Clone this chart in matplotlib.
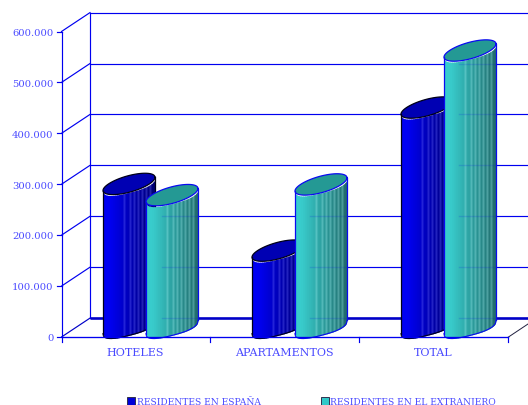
import numpy as np
import matplotlib
matplotlib.use("Agg")
import matplotlib.pyplot as plt

categories = ["HOTELES", "APARTAMENTOS", "TOTAL"]
residentes_espana = [281000, 150000, 431000]
residentes_extranjero = [259000, 280000, 543000]
y_ticks = [0, 100000, 200000, 300000, 400000, 500000, 600000]
y_labels = ["0", "100.000", "200.000", "300.000", "400.000", "500.000", "600.000"]
legend_labels = ["RESIDENTES EN ESPAÑA", "RESIDENTES EN EL EXTRANJERO"]

W, H = 528, 406
X0, Y0 = 61.5, 338.0      # front corner of the plot, in pixels
CAT_W = 149.0
PX_Y = 600000 / 305.5     # value per pixel
LINE = "#0000f0"
TEXT = "#4a4aff"
FONT = "DejaVu Serif"


def dx(p):
    return p / CAT_W


def dy(p):
    return p * PX_Y


def cylinder(left, value, light, dark, cap, edge, stripe):
    a = dx(26)
    mid = left + a
    tilt = dy(6.6)
    b = dy(8.4)
    base = dy(10)
    u = np.linspace(-1, 1, 27)

    def bulge(v):
        return b * np.clip(1 - np.abs(v) ** 2.6, 0, 1) ** (1 / 2.6)

    # body, cut in narrow strips so it shades from left to right
    for i in range(len(u) - 1):
        seg = np.linspace(u[i], u[i + 1] + 0.02 if i < len(u) - 2 else u[i + 1], 4)
        low = base + tilt * seg - bulge(seg)
        high = base + value + tilt * seg - bulge(seg)
        t = max(0, (i / (len(u) - 2) - 0.1) / 0.9)
        col = np.array(light) * (1 - t) + np.array(dark) * t
        if i in (10, 13, 15, 17, 19, 21, 23):
            col = col + (np.array(stripe) - col) * 0.3
        ax.fill_between(mid + a * seg, low, high, color=col, lw=0, zorder=3)
    # silhouette and top ellipse
    t = np.linspace(0, 2 * np.pi, 120)
    ex = mid + a * np.cos(t)
    ey = base + value + tilt * np.cos(t) + b * np.sin(t)
    ax.fill(ex, ey, color=cap, lw=0, zorder=3)
    ax.plot(ex, ey, color=edge, lw=0.9, zorder=3)
    line_u = np.linspace(-1, 1, 121)
    ax.plot(mid + a * line_u, base + tilt * line_u - bulge(line_u), color=edge, lw=0.8, zorder=3)
    ax.plot([left, left], [base - tilt, base - tilt + value], color=edge, lw=0.9, zorder=3)
    ax.plot([left + 2 * a] * 2, [base + tilt, base + tilt + value], color=edge, lw=0.9, zorder=3)


fig = plt.figure(figsize=(W / 100, H / 100), dpi=100)
ax = fig.add_axes([0, 0, 1, 1])
ax.set_xlim(dx(-X0), dx(W - X0))
ax.set_ylim(dy(Y0 - H), dy(Y0))
ax.axis("off")

depth_x, depth_y = dx(28.5), dy(18.9)
x_end = dx(W - X0)

# walls and grid
for v in y_ticks:
    lw = 1.9 if v == 0 else 0.85
    col = "#0000c8" if v == 0 else LINE
    ax.plot([depth_x, x_end], [v + depth_y] * 2, color=col, lw=lw, zorder=1, solid_capstyle="butt")
    ax.plot([0, depth_x], [v, v + depth_y], color="#0000c8" if v == 0 else LINE, lw=0.85, zorder=1)
    ax.plot([dx(-5), 0], [v, v], color=LINE, lw=0.85, zorder=1)
ax.plot([0, 0], [0, 600000], color=LINE, lw=0.85, zorder=1)
ax.plot([depth_x, depth_x], [depth_y, 600000 + depth_y], color=LINE, lw=0.85, zorder=1)
ax.plot([3, x_end], [0, dy(13)], color="#202040", lw=0.7, zorder=1)

# cylinders
for i in range(len(categories)):
    cylinder(i + dx(41.5), residentes_espana[i], (0, 0, 0.95), (0, 0, 0.45), (0, 0, 0.7), "#000018", (0.45, 0.45, 1))
    cylinder(i + dx(84.5), residentes_extranjero[i], (0.22, 0.8, 0.8), (0.13, 0.42, 0.42), (0.14, 0.6, 0.58), "#0a0af0", (0.65, 0.95, 0.95))
    # the back grid shows faintly through the right part of the teal cylinder
    for v in y_ticks:
        if v + depth_y < residentes_extranjero[i]:
            ax.plot([i + dx(100), i + dx(136)], [v + depth_y] * 2, color=LINE, lw=1.0, alpha=0.14, zorder=3.5)

# front axis on top
ax.plot([0, 3], [0, 0], color=LINE, lw=0.95, zorder=4)
for i in range(len(categories) + 1):
    ax.plot([i, i], [0, dy(-5)], color=LINE, lw=0.85, zorder=4)
for v, lab in zip(y_ticks, y_labels):
    ax.text(dx(-8), v - dy(0.8), lab, ha="right", va="center", color=TEXT, fontsize=7.2, family=FONT)
for i, cat in enumerate(categories):
    ax.text(i + 0.5 + dx(-0.5), dy(-15.5), cat, ha="center", va="center", color=TEXT, fontsize=8.0, family=FONT)

# legend
ax.bar(dx(131 - X0), dy(8), dx(8), bottom=dy(Y0 - 405.5), color="#0000d8", edgecolor="#303050", lw=0.7, zorder=4)
ax.text(dx(137 - X0), dy(Y0 - 402.5), legend_labels[0], va="center", color=TEXT, fontsize=6.55, family=FONT)
ax.bar(dx(325 - X0), dy(8), dx(8), bottom=dy(Y0 - 405.5), color="#30c8c8", edgecolor="#303050", lw=0.7, zorder=4)
ax.text(dx(330 - X0), dy(Y0 - 402.5), legend_labels[1], va="center", color=TEXT, fontsize=6.55, family=FONT)

fig.savefig("out.png", dpi=100)
